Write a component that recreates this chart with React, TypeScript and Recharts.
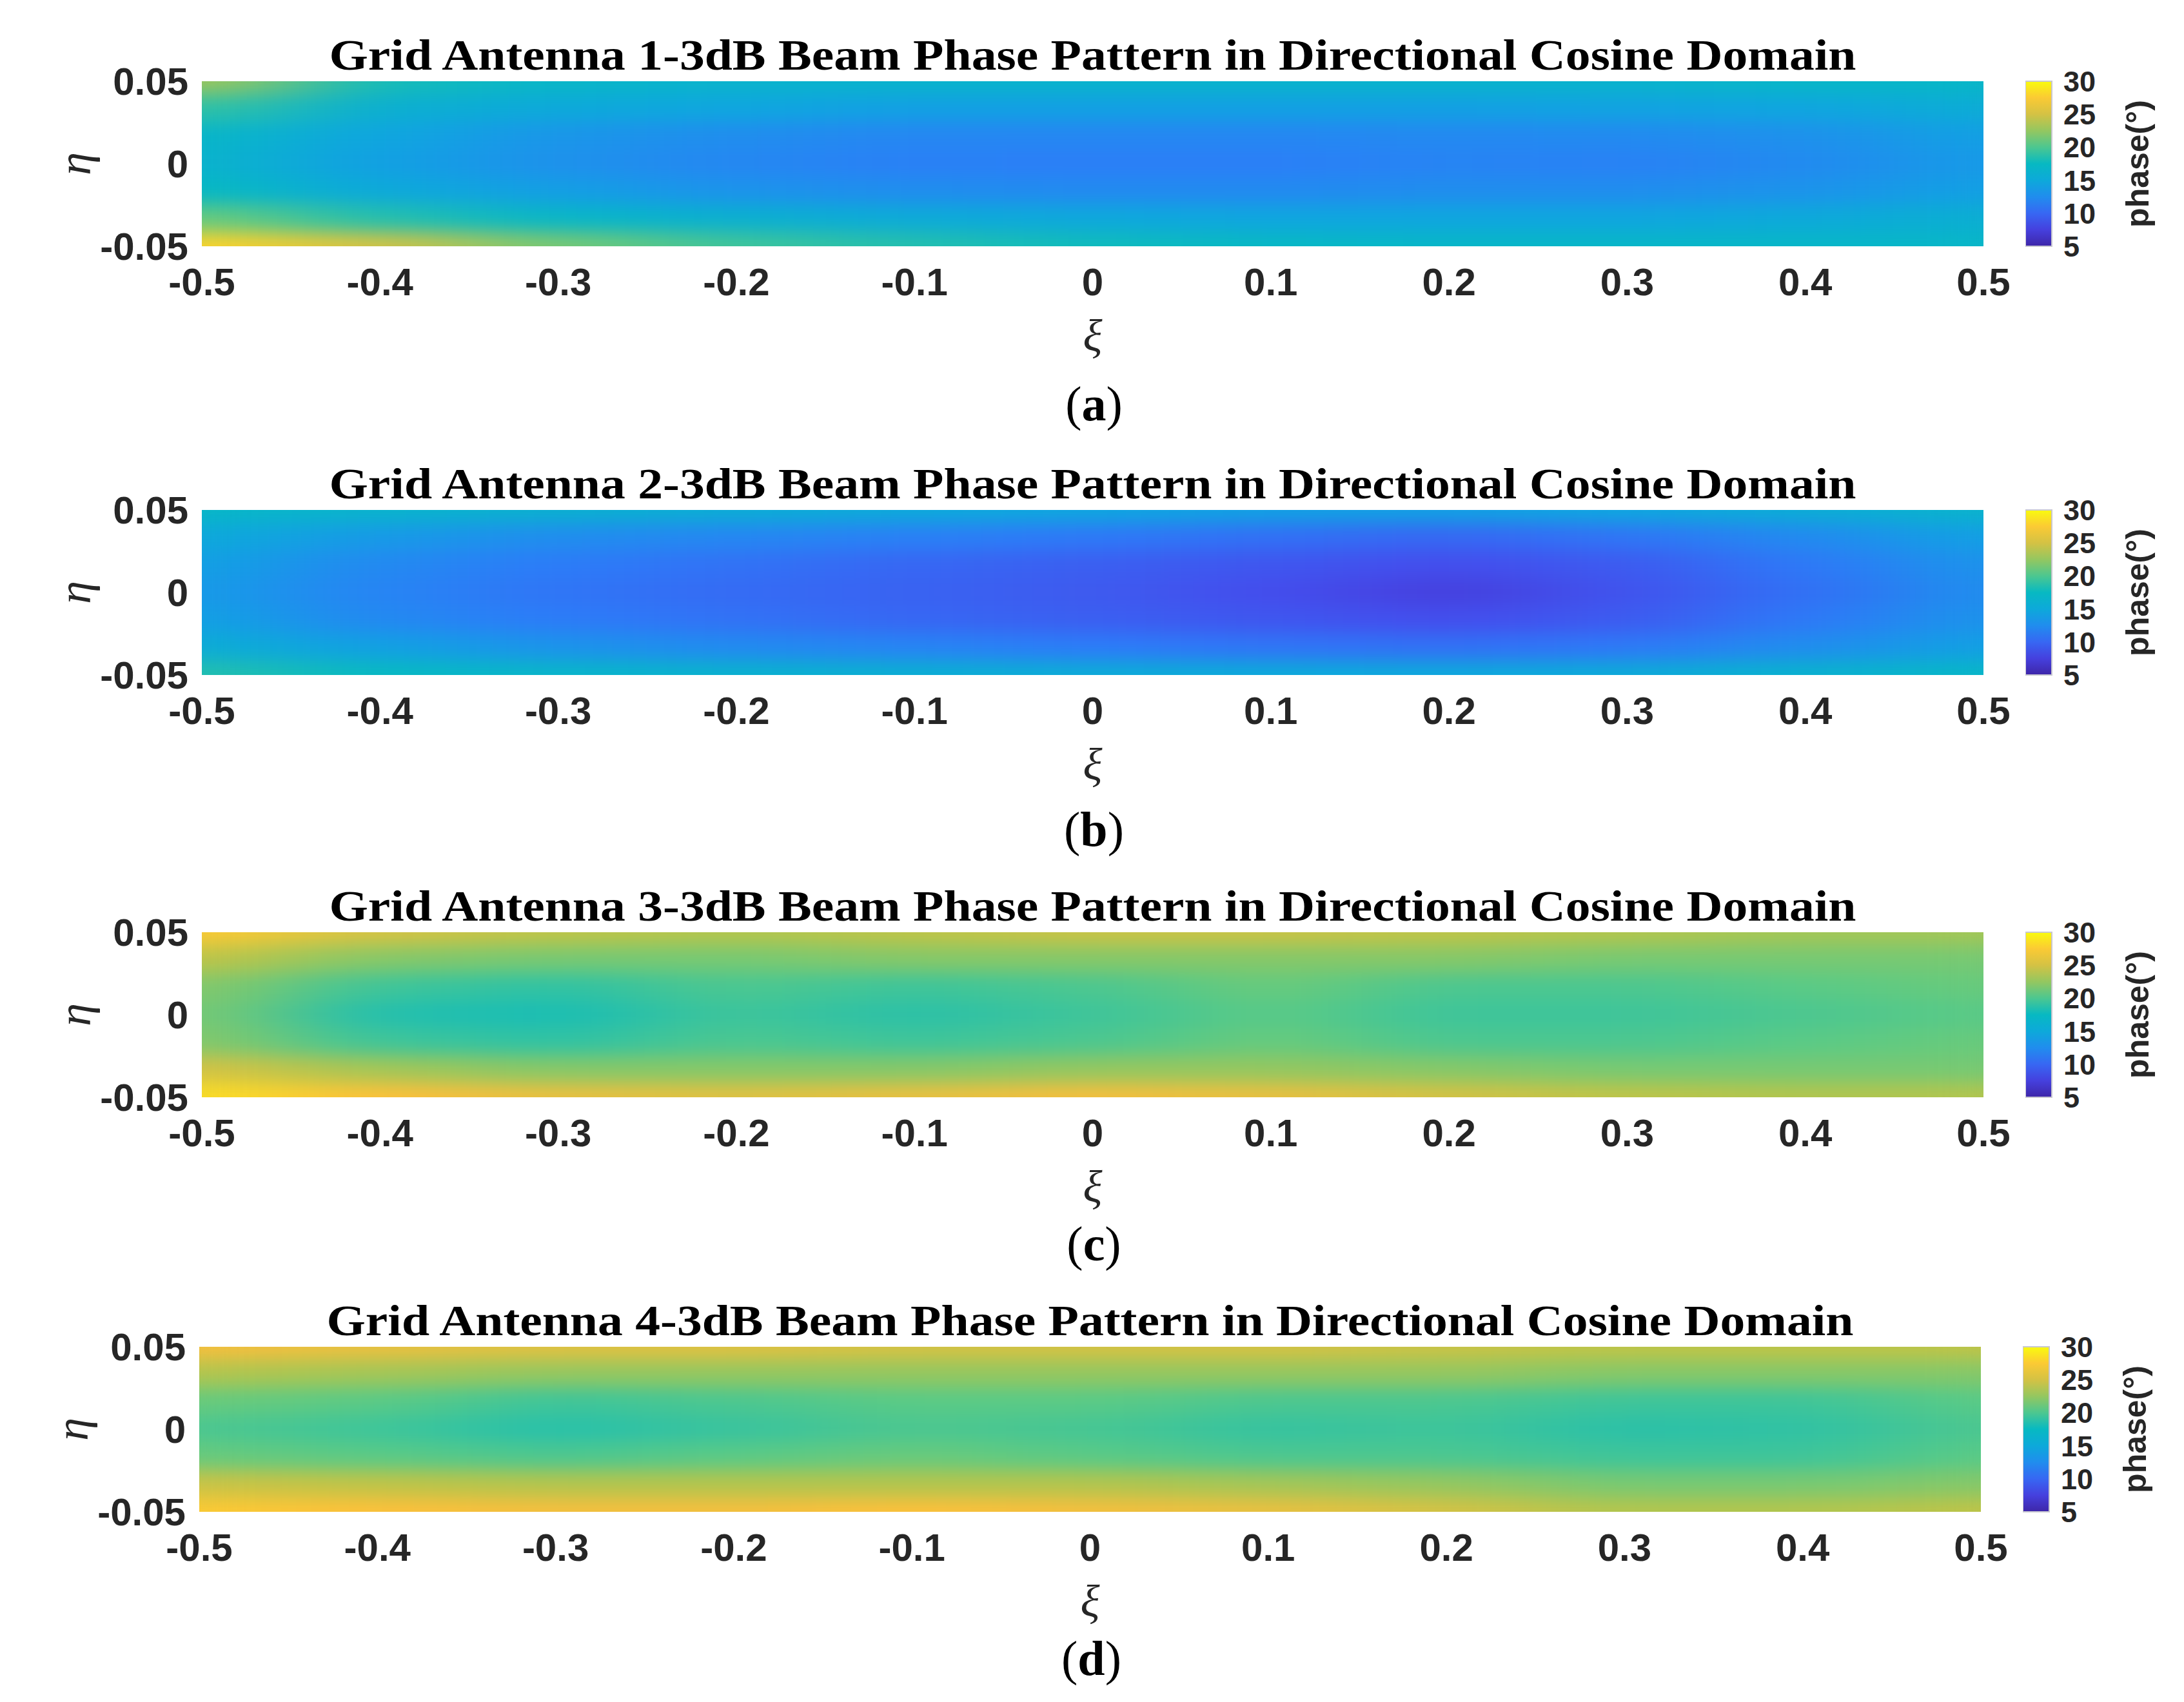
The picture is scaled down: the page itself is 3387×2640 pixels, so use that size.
import { ScatterChart, Scatter, XAxis, YAxis, BarChart, Bar } from 'recharts';

// directional cosine grid (columns = xi, rows = eta, top row first)
const XI = [-0.5, -0.4, -0.3, -0.2, -0.1, 0, 0.1, 0.2, 0.3, 0.4, 0.5];
const ETA = [0.05, 0.0333, 0.0167, 0, -0.0167, -0.0333, -0.05];
const ETA_TICKS = [-0.05, 0, 0.05];
const CB_TICKS = [5, 10, 15, 20, 25, 30];

// phase (deg)
const PHASE_A = [
  [23, 18, 17, 16.5, 16.5, 16.5, 16.5, 16.5, 16.5, 17, 17],
  [19, 16, 15, 14.5, 14, 14, 14, 14, 14.2, 14.5, 15.5],
  [17, 14.5, 13.2, 12.5, 12, 12, 12, 12.2, 12.3, 12.8, 14],
  [16.5, 14, 12.8, 12, 11.5, 11.4, 11.4, 11.8, 11.6, 12.3, 13.5],
  [17.5, 15, 13.8, 13, 12.5, 12.3, 12.3, 12.5, 12.5, 13, 14],
  [21, 18.5, 17, 16, 15.2, 14.8, 14.5, 14.5, 14.5, 15, 15.8],
  [28, 25, 21.5, 19.5, 18.5, 17.8, 17.3, 17, 17, 17, 17],
];

const PHASE_B = [
  [17, 16.5, 16, 15.5, 15, 14.5, 14, 14, 14.5, 15.5, 16.5],
  [15, 13.5, 12.5, 12, 11.5, 11, 10.5, 10, 10.8, 12.3, 14],
  [14, 12.2, 11.2, 10.6, 10, 9.5, 9, 8.5, 9.3, 11, 13],
  [13.5, 11.8, 10.8, 10.2, 9.7, 9.2, 8.5, 7.5, 8.8, 10.5, 12.5],
  [14, 12.2, 11.2, 10.6, 10, 9.5, 9, 8.5, 9.3, 11, 13],
  [15.5, 14, 13, 12.3, 11.8, 11.2, 10.8, 10.5, 11, 12.5, 14],
  [18.5, 17.5, 16.8, 16.2, 15.8, 15.3, 15, 14.8, 15.2, 16.2, 17],
];

const PHASE_C = [
  [27.5, 25, 24, 23.5, 24, 24.5, 24.5, 24, 23.5, 23, 23],
  [24, 22, 21.5, 21.5, 22, 22, 22, 22, 21.5, 21.5, 21.5],
  [22, 19.5, 19, 20, 19.5, 20, 21, 20, 20, 20.5, 21],
  [21.5, 18.5, 18.2, 19.5, 18.8, 19.5, 20.5, 19.5, 19.5, 20, 20.5],
  [22, 19.5, 19, 20, 19.5, 20, 21, 20, 20, 20.5, 21],
  [25, 23, 22, 22, 22, 22.5, 22.5, 22, 21.5, 21.5, 21.5],
  [28.5, 27, 26, 25.5, 26, 26.5, 26, 25, 24, 23.5, 23.5],
];

const PHASE_D = [
  [26.5, 26, 25.5, 25.5, 25, 25, 25, 24.5, 24, 24, 24],
  [23.5, 23, 22.5, 22.5, 22.5, 22.5, 22.5, 22.5, 22, 22, 22],
  [21, 20.5, 19.5, 20, 20.5, 20.5, 20, 20, 19.5, 19.5, 20.5],
  [20, 19.5, 18.7, 19.3, 20, 19.8, 19.2, 19.5, 18.8, 19, 20],
  [21, 20.5, 20, 20.5, 21, 20.5, 20, 20, 19.5, 19.5, 20.5],
  [24.5, 24, 23.5, 23.5, 23.5, 23.5, 23, 22.5, 21.5, 21.5, 22],
  [27.5, 27, 26.5, 26.5, 27, 26.5, 26, 25, 23.5, 23.5, 24],
];

const CB_DATA = [{ name: 'phase', range: [5, 30] }];

const PANELS = [
  { label: 'a', antenna: 1, grid: PHASE_A, plotTop: 126, shiftX: 0, capGap: 270 },
  { label: 'b', antenna: 2, grid: PHASE_B, plotTop: 791, shiftX: 0, capGap: 265 },
  { label: 'c', antenna: 3, grid: PHASE_C, plotTop: 1446, shiftX: 0, capGap: 253 },
  { label: 'd', antenna: 4, grid: PHASE_D, plotTop: 2089, shiftX: -4, capGap: 253 },
];

// layout
const CHART_W = 3387;
const Y_AXIS_W = 313;
const PLOT_W = 2763;
const PLOT_H = 256;
const PAD_T = 120;
const XAXIS_H = 180;
const CHART_H = PAD_T + PLOT_H + XAXIS_H;
const CB_LEFT = 3141;
const CB_BAR_W = 41;
const CB_W = CHART_W - CB_LEFT;
const CELL_W = PLOT_W / (XI.length - 1);
const CELL_H = PLOT_H / (ETA.length - 1);

// parula-like colormap
const PARULA = [
  [62, 38, 168],
  [71, 71, 235],
  [44, 125, 248],
  [15, 165, 224],
  [7, 185, 194],
  [93, 203, 131],
  [185, 196, 73],
  [252, 190, 61],
  [249, 251, 14],
];

function phaseColor(v: number) {
  const t = Math.min(1, Math.max(0, (v - 5) / 25)) * (PARULA.length - 1);
  const i = Math.min(PARULA.length - 2, Math.floor(t));
  const f = t - i;
  const c = PARULA[i].map((a, k) => Math.round(a + (PARULA[i + 1][k] - a) * f));
  return `rgb(${c[0]},${c[1]},${c[2]})`;
}

const toCells = (grid: number[][]) =>
  grid.flatMap((row, i) => row.map((v, j) => ({ x: XI[j], y: ETA[i], v })));

const HeatCell = (props: any) => {
  const { cx, cy, payload } = props;
  return (
    <rect
      x={cx - CELL_W / 2 - 1}
      y={cy - CELL_H / 2 - 1}
      width={CELL_W + 2}
      height={CELL_H + 2}
      fill={phaseColor(payload.v)}
    />
  );
};

const tickStyle = {
  fill: '#262626',
  fontSize: 60,
  fontWeight: 'bold',
  fontFamily: 'Liberation Sans, Arial, sans-serif',
};

const XiLabel = ({ viewBox }: any) => (
  <text
    x={viewBox.x + viewBox.width / 2}
    y={viewBox.y + 138}
    textAnchor="middle"
    dominantBaseline="central"
    fontFamily="Liberation Serif, serif"
    fontStyle="italic"
    fontSize={70}
    fill="#262626"
  >
    ξ
  </text>
);

const EtaLabel = ({ viewBox }: any) => {
  const x = viewBox.x + 116;
  const y = viewBox.y + viewBox.height / 2;
  return (
    <text
      x={x}
      y={y}
      transform={`rotate(-90 ${x} ${y})`}
      textAnchor="middle"
      dominantBaseline="central"
      fontFamily="Liberation Serif, serif"
      fontStyle="italic"
      fontSize={72}
      fill="#262626"
    >
      η
    </text>
  );
};

const PhaseLabel = ({ viewBox }: any) => {
  const x = viewBox.x + viewBox.width - 72;
  const y = viewBox.y + viewBox.height / 2;
  return (
    <text
      x={x}
      y={y}
      transform={`rotate(-90 ${x} ${y})`}
      textAnchor="middle"
      dominantBaseline="central"
      fontFamily="Liberation Sans, Arial, sans-serif"
      fontWeight="bold"
      fontSize={50}
      fill="#262626"
    >
      phase(°)
    </text>
  );
};

function Panel({ label, antenna, grid, plotTop, shiftX, capGap }: any) {
  const cells = toCells(grid);
  return (
    <div
      className="heatmap"
      style={{ position: 'absolute', left: shiftX, top: plotTop - PAD_T, width: CHART_W, height: 700 }}
    >
      <div style={{ position: 'absolute', left: 0, top: 0 }}>
        <ScatterChart
          width={CHART_W}
          height={CHART_H}
          margin={{ top: PAD_T, right: CHART_W - Y_AXIS_W - PLOT_W, bottom: 0, left: 0 }}
        >
          <XAxis
            type="number"
            dataKey="x"
            domain={[-0.5, 0.5]}
            ticks={XI}
            interval={0}
            height={XAXIS_H}
            axisLine={false}
            tickLine={false}
            tickSize={0}
            tickMargin={33}
            tick={tickStyle}
            label={{ content: XiLabel }}
          />
          <YAxis
            type="number"
            dataKey="y"
            domain={[-0.05, 0.05]}
            ticks={ETA_TICKS}
            interval={0}
            width={Y_AXIS_W}
            axisLine={false}
            tickLine={false}
            tickSize={0}
            tickMargin={21}
            tick={tickStyle}
            label={{ content: EtaLabel }}
          />
          <Scatter data={cells} shape={HeatCell} isAnimationActive={false} />
        </ScatterChart>
      </div>

      {/* colorbar */}
      <div style={{ position: 'absolute', left: CB_LEFT, top: 0 }}>
        <BarChart
          width={CB_W}
          height={CHART_H}
          data={CB_DATA}
          margin={{ top: PAD_T, right: 0, bottom: XAXIS_H, left: 0 }}
          barCategoryGap={0}
        >
          <XAxis dataKey="name" hide />
          <YAxis
            orientation="right"
            type="number"
            domain={[5, 30]}
            ticks={CB_TICKS}
            interval={0}
            width={CB_W - CB_BAR_W}
            axisLine={false}
            tickLine={false}
            tickSize={0}
            tickMargin={18}
            tick={{ ...tickStyle, fontSize: 45 }}
            label={{ content: PhaseLabel }}
          />
          <Bar dataKey="range" fill="url(#cbgrad)" stroke="#c8c8d0" strokeWidth={2} isAnimationActive={false} />
        </BarChart>
      </div>

      {/* title + caption */}
      <svg
        width={CHART_W}
        height={700}
        style={{ position: 'absolute', left: 0, top: 0, pointerEvents: 'none' }}
      >
        <text
          x={Y_AXIS_W + PLOT_W / 2}
          y={PAD_T - 18}
          textAnchor="middle"
          fontFamily="Liberation Serif, serif"
          fontWeight="bold"
          fontSize={68}
          textLength={2368}
          lengthAdjust="spacingAndGlyphs"
          fill="#000"
        >
          {`Grid Antenna ${antenna}-3dB Beam Phase Pattern in Directional Cosine Domain`}
        </text>
        <text
          x={Y_AXIS_W + PLOT_W / 2 + 2}
          y={PAD_T + PLOT_H + capGap}
          textAnchor="middle"
          fontFamily="Liberation Serif, serif"
          fontSize={76}
          fill="#000"
        >
          (<tspan fontWeight="bold">{label}</tspan>)
        </text>
      </svg>
    </div>
  );
}

export default function App() {
  const gradStops = CB_TICKS.flatMap((v, i) => (i === 0 ? [v] : [v - 2.5, v]));
  return (
    <div
      style={{
        position: 'absolute',
        left: 0,
        top: 0,
        width: CHART_W,
        height: 2640,
        background: '#fff',
        overflow: 'hidden',
      }}
    >
      <style>{`.heatmap .recharts-scatter { filter: url(#smooth); }`}</style>
      <svg width={0} height={0} style={{ position: 'absolute' }}>
        <defs>
          <filter
            id="smooth"
            filterUnits="userSpaceOnUse"
            x={Y_AXIS_W}
            y={PAD_T}
            width={PLOT_W}
            height={PLOT_H}
            colorInterpolationFilters="sRGB"
          >
            <feGaussianBlur stdDeviation="95 14" />
            <feComponentTransfer>
              <feFuncA type="linear" slope={60} intercept={0} />
            </feComponentTransfer>
          </filter>
          <linearGradient id="cbgrad" x1="0" y1="1" x2="0" y2="0">
            {gradStops.map((v) => (
              <stop key={v} offset={(v - 5) / 25} stopColor={phaseColor(v)} />
            ))}
          </linearGradient>
        </defs>
      </svg>
      {PANELS.map((p) => (
        <Panel key={p.label} {...p} />
      ))}
    </div>
  );
}
